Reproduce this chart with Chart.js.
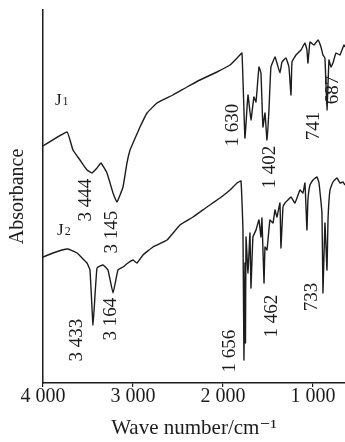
<!DOCTYPE html>
<html>
<head>
<meta charset="utf-8">
<script src="https://cdn.jsdelivr.net/npm/chart.js@4"></script>
<style>
  html, body { margin: 0; padding: 0; background: #fff; }
</style>
</head>
<body>
<canvas id="ir" width="345" height="442"></canvas>
<script>
// IR spectra of the two samples.
// Wave numbers in cm^-1, absorbance in arbitrary (stacked) units.
const j1Wave = [4000, 3733, 3667, 3589, 3511, 3456, 3400, 3356, 3289, 3222, 3178, 3111, 3067, 3033, 3000, 2922,
  2844, 2733, 2556, 2400, 2256, 2067, 1922, 1833, 1789, 1756, 1722, 1689, 1656, 1633, 1600, 1578, 1556, 1533,
  1511, 1489, 1467, 1422, 1400, 1367, 1344, 1300, 1267, 1244, 1233, 1189, 1133, 1089, 1067, 1056, 1033, 989,
  944, 911, 889, 867, 844, 822, 800, 778, 744, 700, 656, 644];
const j1Abs = [237, 251, 233, 223, 213, 210, 215, 220, 210, 190, 181, 196, 220, 233, 240, 256,
  270, 280, 288, 296, 303, 311, 318, 326, 330, 245, 288, 263, 286, 281, 316, 310, 256, 270,
  243, 273, 316, 326, 320, 310, 321, 325, 316, 288, 321, 328, 333, 340, 333, 320, 341, 338,
  343, 336, 328, 325, 273, 323, 316, 320, 330, 328, 338, 336];

const j2Wave = [4000, 3889, 3789, 3722, 3622, 3511, 3478, 3444, 3400, 3333, 3278, 3222, 3167, 3111, 3056, 3000,
  2956, 2889, 2778, 2622, 2478, 2333, 2178, 2033, 1922, 1844, 1800, 1778, 1767, 1756, 1750, 1744, 1722, 1700,
  1689, 1667, 1633, 1600, 1578, 1567, 1544, 1533, 1511, 1478, 1444, 1422, 1400, 1367, 1356, 1333, 1311, 1278,
  1244, 1200, 1144, 1111, 1089, 1067, 1056, 1033, 1000, 956, 933, 900, 889, 867, 844, 833, 811, 778, 733,
  700, 667, 644];
const j2Abs = [126, 130, 133, 134, 130, 120, 113, 58, 115, 118, 113, 90, 113, 116, 120, 123,
  120, 128, 136, 143, 158, 166, 176, 185, 193, 200, 202, 153, 23, 120, 40, 146, 110, 150,
  95, 146, 153, 163, 146, 165, 100, 136, 133, 163, 160, 173, 166, 180, 135, 176, 180, 183,
  186, 180, 193, 190, 200, 153, 183, 198, 203, 206, 200, 170, 90, 160, 113, 163, 193, 201, 205,
  200, 201, 198];

// x axis ticks
const xTicks = [4000, 3000, 2000, 1000];
const xTickLabels = ['4 000', '3 000', '2 000', '1 000'];

// peak annotations (rotated), placed in data units
const peakText = ['3 444', '3 145', '1 630', '1 402', '741', '687', '3 433', '3 164', '1 656', '1 462', '733'];
const peakWave = [3522, 3233, 1889, 1478, 989, 778, 3622, 3244, 1922, 1456, 1011];
const peakAbs = [183, 151, 258, 216, 257, 293, 43, 64, 32, 67, 86];

// curve names
const seriesSub = ['1', '2'];
const seriesWave = [3867, 3844];
const seriesAbs = [282, 152];

const INK = '#1c1c1c';
const SERIF = '"Liberation Serif", "DejaVu Serif", serif';

const toPoints = (xs, ys) => xs.map((x, i) => ({ x, y: ys[i] }));

// draws the peak numbers and the J1 / J2 tags through the chart scales
const annotations = {
  id: 'annotations',
  afterDatasetsDraw(chart) {
    const { ctx, scales: { x, y } } = chart;
    ctx.save();
    ctx.fillStyle = INK;
    ctx.font = `19px ${SERIF}`;
    ctx.textAlign = 'center';
    ctx.textBaseline = 'middle';
    peakText.forEach((t, i) => {
      ctx.save();
      ctx.translate(x.getPixelForValue(peakWave[i]), y.getPixelForValue(peakAbs[i]));
      ctx.rotate(-Math.PI / 2);
      ctx.fillText(t, 0, 0);
      ctx.restore();
    });

    ctx.textAlign = 'left';
    seriesSub.forEach((s, i) => {
      const px = x.getPixelForValue(seriesWave[i]);
      const py = y.getPixelForValue(seriesAbs[i]);
      ctx.font = `17px ${SERIF}`;
      ctx.fillText('J', px, py);
      const w = ctx.measureText('J').width;
      ctx.font = `12px ${SERIF}`;
      ctx.fillText(s, px + w + 1, py + 1);
    });
    ctx.restore();
  },
};

const lineStyle = {
  borderColor: INK,
  borderWidth: 1.4,
  pointRadius: 0,
  tension: 0.1,
  fill: false,
};

new Chart(document.getElementById('ir').getContext('2d'), {
  type: 'line',
  data: {
    datasets: [
      { label: 'J1', data: toPoints(j1Wave, j1Abs), ...lineStyle },
      { label: 'J2', data: toPoints(j2Wave, j2Abs), ...lineStyle },
    ],
  },
  options: {
    responsive: false,
    devicePixelRatio: 1,
    animation: false,
    layout: { padding: { top: 10, right: 0, bottom: 0, left: 0 } },
    plugins: { legend: { display: false }, tooltip: { enabled: false } },
    scales: {
      x: {
        type: 'linear',
        reverse: true,
        min: 644,
        max: 4000,
        afterBuildTicks: (s) => { s.ticks = xTicks.map((v) => ({ value: v })); },
        afterFit: (s) => { s.height = 59; },
        ticks: {
          autoSkip: false,
          maxRotation: 0,
          padding: 0,
          color: INK,
          font: { family: SERIF, size: 20, lineHeight: 1 },
          callback: (v) => xTickLabels[xTicks.indexOf(v)],
        },
        grid: { drawOnChartArea: false, drawTicks: true, tickLength: 4, color: INK, lineWidth: 1.2 },
        border: { display: true, color: INK, width: 1.5 },
        title: {
          display: true,
          text: 'Wave number/cm\u207B\u00B9',
          color: INK,
          font: { family: SERIF, size: 21 },
          padding: { top: 0, bottom: 1 },
        },
      },
      y: {
        min: 0,
        max: 373,
        afterFit: (s) => { s.width = 43; },
        ticks: { display: false },
        grid: { display: false, drawTicks: false },
        border: { display: true, color: INK, width: 1.5 },
        title: {
          display: true,
          text: 'Absorbance',
          color: INK,
          font: { family: SERIF, size: 20 },
          padding: { top: 6, bottom: 0 },
        },
      },
    },
  },
  plugins: [annotations],
});
</script>
</body>
</html>
